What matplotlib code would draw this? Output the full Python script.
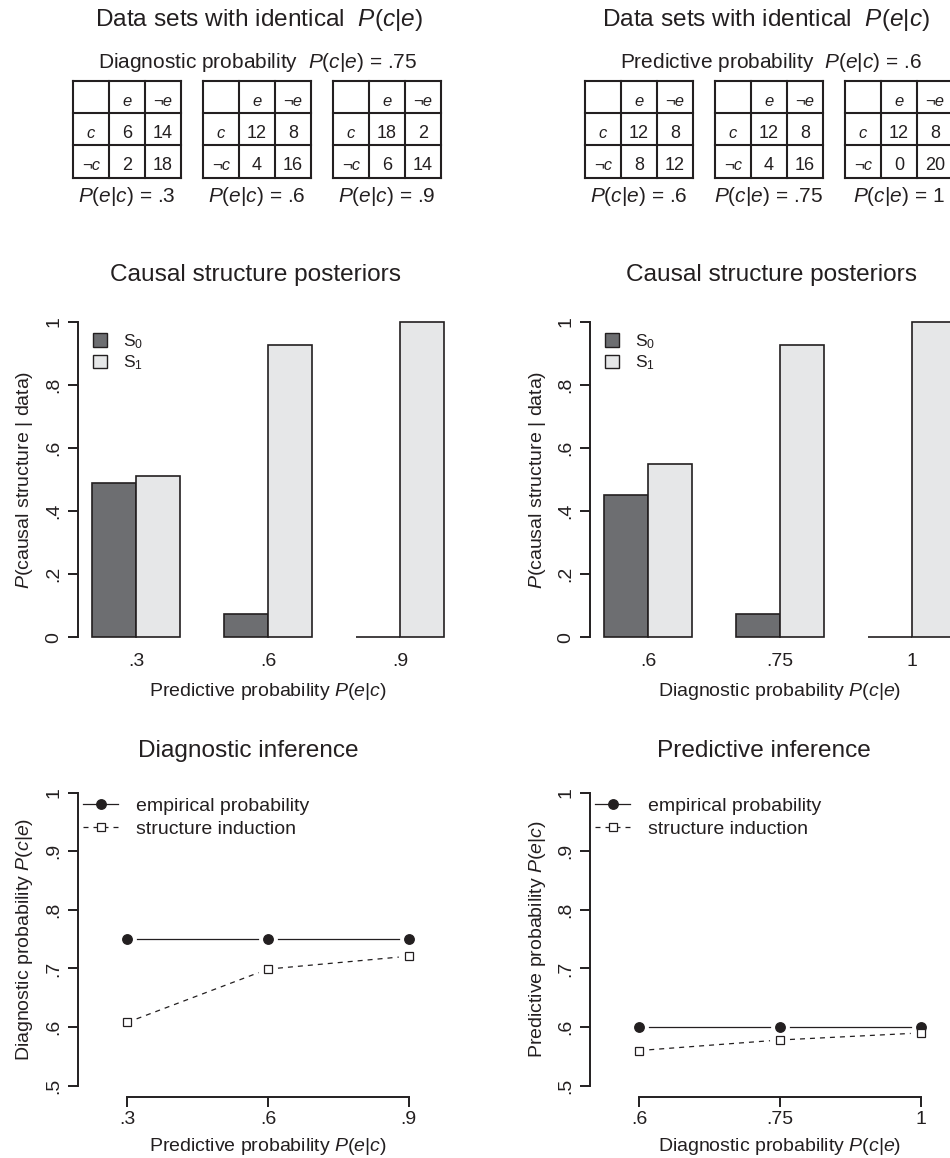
import numpy as np
import matplotlib
matplotlib.use("Agg")
import matplotlib.pyplot as plt
from matplotlib.lines import Line2D
from matplotlib.patches import Patch

plt.rcParams['font.family'] = ['Liberation Sans', 'DejaVu Sans']
plt.rcParams['mathtext.fontset'] = 'custom'
plt.rcParams['mathtext.rm'] = 'Liberation Sans'
plt.rcParams['mathtext.it'] = 'Liberation Sans:italic'
plt.rcParams['mathtext.bf'] = 'Liberation Sans:bold'

INK = '#231f20'
DARK = '#6d6e71'
LIGHT = '#e6e7e8'

# 2x2 tables: rows c / not c, columns e / not e
diag_tables = [[[6, 14], [2, 18]], [[12, 8], [4, 16]], [[18, 2], [6, 14]]]
pred_tables = [[[12, 8], [8, 12]], [[12, 8], [4, 16]], [[12, 8], [0, 20]]]

pred_ticks = [".3", ".6", ".9"]    # P(e|c) of the left data sets
diag_ticks = [".6", ".75", "1"]    # P(c|e) of the right data sets

# posteriors of causal structure
s0_left = [0.488, 0.075, 0.0]
s1_left = [0.512, 0.925, 1.0]
s0_right = [0.451, 0.075, 0.0]
s1_right = [0.549, 0.925, 1.0]

# inferences
emp_diag = [0.75, 0.75, 0.75]
ind_diag = [0.608, 0.699, 0.721]
emp_pred = [0.60, 0.60, 0.60]
ind_pred = [0.560, 0.578, 0.590]

W, H = 950, 1158
fig = plt.figure(figsize=(W / 100, H / 100), dpi=100)


def rect(x0, y0, x1, y1):
    return [x0 / W, 1 - y1 / H, (x1 - x0) / W, (y1 - y0) / H]


# overlay in pixel coordinates for tables and headings
ov = fig.add_axes([0, 0, 1, 1])
ov.set_xlim(0, W)
ov.set_ylim(H, 0)
ov.axis('off')
ov.patch.set_visible(False)


def txt(x, y, s, size, **kw):
    kw.setdefault('ha', 'center')
    kw.setdefault('va', 'baseline')
    ov.text(x, y, s, fontsize=size, color=INK, **kw)


def draw_table(x0, counts, label):
    cw, rh, y0 = 36, 32.3, 80.7
    for i in range(4):
        ov.plot([x0, x0 + 3 * cw], [y0 + i * rh] * 2, color=INK, lw=1.5,
                solid_capstyle='projecting', clip_on=False)
        ov.plot([x0 + i * cw] * 2, [y0, y0 + 3 * rh], color=INK, lw=1.5,
                solid_capstyle='projecting', clip_on=False)
    base = [y0 + (r + 0.5) * rh + 9 for r in range(3)]
    cx = [x0 + (c + 0.5) * cw for c in range(3)]
    txt(cx[1], base[0], "e", 12, style='italic')
    txt(cx[2], base[0], "¬e", 12, style='italic', clip_on=False)
    txt(cx[0], base[1], "c", 12, style='italic')
    txt(cx[0], base[2], "¬c", 12, style='italic')
    for r in range(2):
        for c in range(2):
            txt(cx[c + 1], base[r + 1], str(counts[r][c]), 13, clip_on=False)
    txt(x0 + 1.5 * cw, 201.7, label, 15, clip_on=False)


txt(259, 26, r"Data sets with identical  $P(c|e)$", 17.6)
txt(766, 26, r"Data sets with identical  $P(e|c)$", 17.6)
txt(258, 68, r"Diagnostic probability  $P(c|e)$ = .75", 15)
txt(771, 68, r"Predictive probability  $P(e|c)$ = .6", 15)
for i, x0 in enumerate([73, 203, 333]):
    draw_table(x0, diag_tables[i], r"$P(e|c)$ = " + pred_ticks[i])
for i, x0 in enumerate([585, 715, 845]):
    draw_table(x0, pred_tables[i], r"$P(c|e)$ = " + diag_ticks[i])

txt(256, 280.7, "Causal structure posteriors", 17.6)
txt(772, 280.7, "Causal structure posteriors", 17.6)
txt(248, 756.7, "Diagnostic inference", 17.6)
txt(764, 756.7, "Predictive inference", 17.6)


def style_axis(ax, ybounds, yticks, ylabels):
    for s in ['top', 'right', 'bottom']:
        ax.spines[s].set_visible(False)
    ax.spines['left'].set_bounds(*ybounds)
    ax.spines['left'].set_linewidth(1.4)
    ax.spines['left'].set_color(INK)
    ax.set_yticks(yticks)
    ax.set_yticklabels(ylabels, rotation=90, va='center')
    ax.tick_params(axis='y', length=7, width=1.4, color=INK, labelcolor=INK,
                   labelsize=14, pad=4)
    ax.patch.set_visible(False)


def bar_panel(x0, s0, s1, ticks, xlabel):
    ax = fig.add_axes(rect(x0, 309, x0 + 380, 650))
    idx = np.arange(len(s0)) * 3
    ax.bar(idx + 1.5, s0, width=1, color=DARK, edgecolor=INK, lw=1.2)
    ax.bar(idx + 2.5, s1, width=1, color=LIGHT, edgecolor=INK, lw=1.2)
    ax.set_xlim(0.68, 9.32)
    ax.set_ylim(-0.04, 1.04)
    style_axis(ax, (0, 1), [0, .2, .4, .6, .8, 1], ["0", ".2", ".4", ".6", ".8", "1"])
    ax.set_xticks(idx + 2)
    ax.set_xticklabels(ticks)
    ax.tick_params(axis='x', length=0, labelsize=14, labelcolor=INK, pad=2)
    handles = [Patch(facecolor=DARK, edgecolor=INK, lw=1),
               Patch(facecolor=LIGHT, edgecolor=INK, lw=1)]
    ax.legend(handles, [r"S$_0$", r"S$_1$"], loc='upper left',
              bbox_to_anchor=((93 - x0 % 512) / 380, (650 - 332) / 341),
              frameon=False, fontsize=12.5, handlelength=0.82, handleheight=0.82,
              handletextpad=0.9, labelspacing=0.15, borderpad=0, borderaxespad=0,
              labelcolor=INK)
    txt(x0 + 190, 696, xlabel, 14)
    txt(x0 - 53, 479.5, r"$P$(causal structure | data)", 14, rotation=90,
        va='center')
    return ax


def gapped(ax, xs, ys, gap, **kw):
    pts = ax.transData.transform(np.column_stack([xs, ys]))
    inv = ax.transData.inverted()
    for p, q in zip(pts[:-1], pts[1:]):
        u = (q - p) / np.hypot(*(q - p))
        seg = inv.transform([p + u * gap, q - u * gap])
        ax.plot(seg[:, 0], seg[:, 1], **kw)


def line_panel(x0, emp, ind, ticks, xlabel, ylabel):
    ax = fig.add_axes(rect(x0, 781, x0 + 380, 1097.4))
    ax.set_xlim(0.65, 3.35)
    ax.set_ylim(0.48, 1.02)
    xs = np.arange(1, len(emp) + 1)
    gapped(ax, xs, emp, 10, color=INK, lw=0.9, ls='-')
    gapped(ax, xs, ind, 10, color=INK, lw=0.9, ls=(0, (4, 4)))
    ax.plot(xs, emp, ls='none', marker='o', ms=6.8, mfc=INK, mec=INK)
    ax.plot(xs, ind, ls='none', marker='s', ms=5.6, mfc='white', mec=INK, mew=0.9)
    style_axis(ax, (0.5, 1), [.5, .6, .7, .8, .9, 1], [".5", ".6", ".7", ".8", ".9", "1"])
    ax.spines['bottom'].set_visible(True)
    ax.spines['bottom'].set_bounds(1, 3)
    ax.spines['bottom'].set_linewidth(1.4)
    ax.spines['bottom'].set_color(INK)
    ax.set_xticks(xs)
    ax.set_xticklabels(ticks)
    ax.tick_params(axis='x', length=7, width=1.4, color=INK, labelcolor=INK,
                   labelsize=14, pad=3)
    handles = [Line2D([], [], color=INK, lw=0.9, marker='o', ms=6.8),
               Line2D([], [], color=INK, lw=0.9, ls=(0, (4, 4)), marker='s', ms=5.6,
                      mfc='white', mew=0.9)]
    ax.legend(handles, ["empirical probability", "structure induction"],
              loc='upper left', bbox_to_anchor=(5 / 380, (1097.4 - 797) / 316.4),
              frameon=False, fontsize=14, handlelength=1.8, handletextpad=0.95,
              labelspacing=0.3, borderpad=0, borderaxespad=0, labelcolor=INK)
    txt(x0 + 190, 1151, xlabel, 14)
    txt(x0 - 53, 939, ylabel, 14, rotation=90, va='center')
    return ax


bar_panel(78, s0_left, s1_left, pred_ticks, r"Predictive probability $P(e|c)$")
bar_panel(590, s0_right, s1_right, diag_ticks, r"Diagnostic probability $P(c|e)$")
line_panel(78, emp_diag, ind_diag, pred_ticks, r"Predictive probability $P(e|c)$",
           r"Diagnostic probability $P(c|e)$")
line_panel(590, emp_pred, ind_pred, diag_ticks, r"Diagnostic probability $P(c|e)$",
           r"Predictive probability $P(e|c)$")

fig.savefig("out.png", dpi=100)
